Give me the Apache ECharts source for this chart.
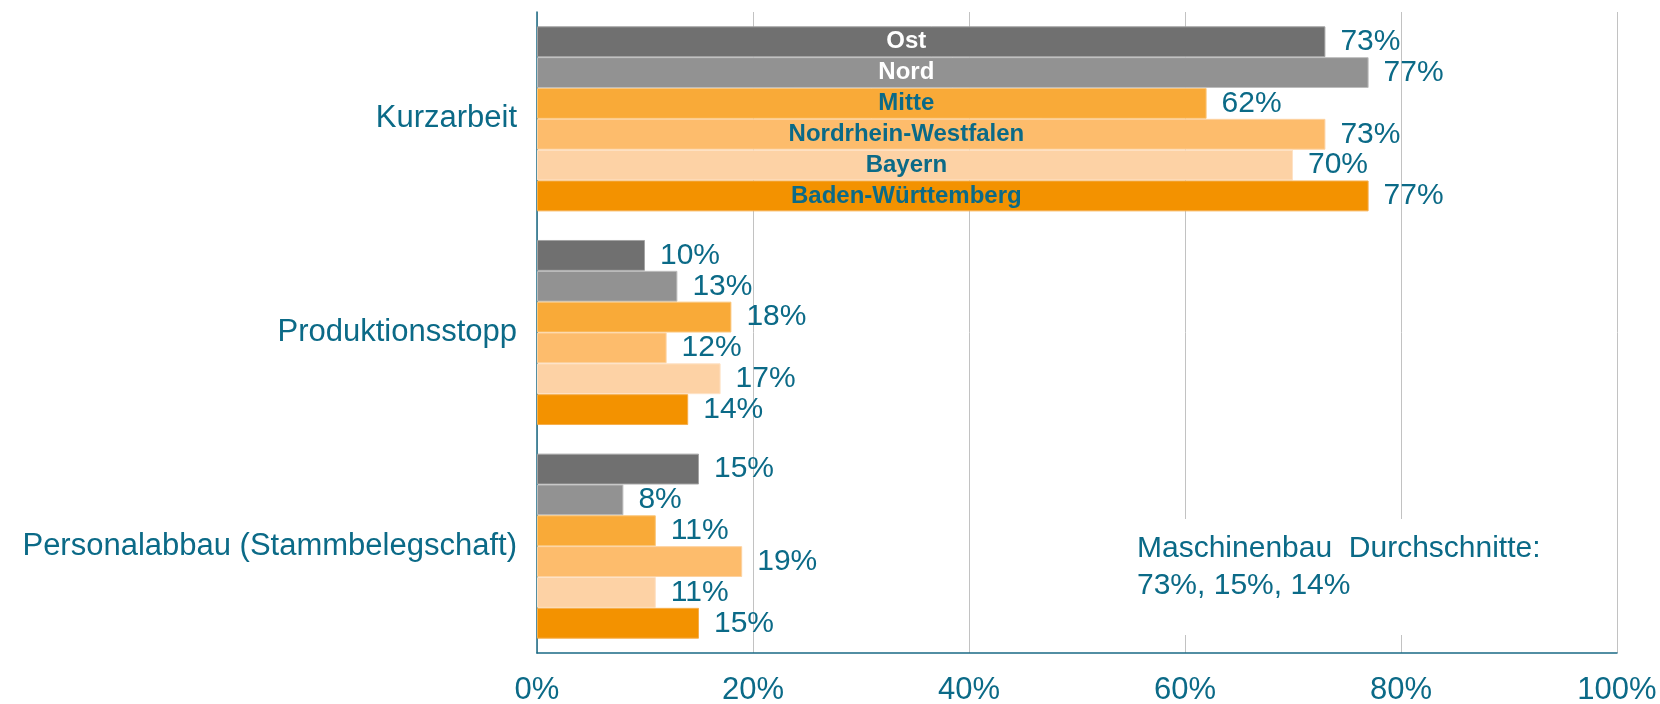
<!DOCTYPE html>
<html>
<head>
<meta charset="utf-8">
<script src="https://cdn.jsdelivr.net/npm/echarts@6/dist/echarts.min.js"></script>
<style>
html,body{margin:0;padding:0;background:#fff;}
#chart{width:1660px;height:704px;}
</style>
</head>
<body>
<div id="chart"></div>
<script>
var categories = ['Kurzarbeit', 'Produktionsstopp', 'Personalabbau (Stammbelegschaft)'];
var regions = ['Ost', 'Nord', 'Mitte', 'Nordrhein-Westfalen', 'Bayern', 'Baden-Württemberg'];
var ost = [73, 10, 15];
var nord = [77, 13, 8];
var mitte = [62, 18, 11];
var nrw = [73, 12, 19];
var bayern = [70, 17, 11];
var bw = [77, 14, 15];
var seriesValues = [ost, nord, mitte, nrw, bayern, bw];
var xTicks = [0, 20, 40, 60, 80, 100];
var noteLines = ['Maschinenbau  Durchschnitte:', '73%, 15%, 14%'];

var TEAL = '#0B6A87';
var FONT = '"Liberation Sans", Arial, sans-serif';
var colors = ['#707070', '#929292', '#F9AA38', '#FDBC6C', '#FDD2A5', '#F39200'];
var borders = ['#A4A4A4', '#BDBDBD', '#FBC67A', '#FDD2A0', '#FEE2C6', '#F6AE4C'];
var nameColors = ['#ffffff', '#ffffff', TEAL, TEAL, TEAL, TEAL];
var nameCenter = 34.2;

var chart = echarts.init(document.getElementById('chart'), null, {renderer: 'canvas'});

var series = regions.map(function (r, i) {
  return {
    name: r,
    type: 'bar',
    data: seriesValues[i],
    barGap: '0%',
    barCategoryGap: '13.4%',
    itemStyle: {color: colors[i], borderColor: borders[i], borderWidth: 1},
    label: {
      show: true,
      position: 'right',
      distance: 15,
      formatter: '{c}%',
      color: TEAL,
      fontSize: 30,
      fontFamily: FONT
    },
    markPoint: {
      symbol: 'rect',
      symbolSize: 1,
      itemStyle: {color: 'rgba(0,0,0,0)'},
      silent: true,
      animation: false,
      label: {
        show: true,
        position: 'inside',
        formatter: r,
        color: nameColors[i],
        fontSize: 24,
        fontWeight: 'bold',
        fontFamily: FONT
      },
      data: [{coord: [nameCenter, categories[0]]}]
    }
  };
});

chart.setOption({
  animation: false,
  grid: {left: 537, right: 43, top: 12, bottom: 51, containLabel: false, outerBoundsMode: 'none'},
  xAxis: {
    type: 'value',
    min: xTicks[0],
    max: xTicks[xTicks.length - 1],
    interval: xTicks[1] - xTicks[0],
    axisLine: {show: true, lineStyle: {color: '#1A6A85', width: 1.5}},
    axisTick: {show: false},
    splitLine: {show: true, lineStyle: {color: '#C2C2C2', width: 1}},
    axisLabel: {
      formatter: '{value}%',
      color: TEAL,
      fontSize: 31,
      fontFamily: FONT,
      margin: 22
    }
  },
  yAxis: {
    type: 'category',
    data: categories,
    inverse: true,
    axisLine: {show: true, lineStyle: {color: '#1A6A85', width: 1.5}},
    axisTick: {show: false},
    axisLabel: {
      color: TEAL,
      fontSize: 31,
      fontFamily: FONT,
      margin: 20
    }
  },
  graphic: [
    {
      type: 'rect',
      left: 1128,
      top: 519,
      shape: {width: 430, height: 116},
      style: {fill: '#ffffff'},
      z: 10
    },
    {
      type: 'text',
      left: 1137,
      top: 530,
      z: 11,
      style: {
        text: noteLines.join('\n'),
        fill: TEAL,
        font: '30px "Liberation Sans", Arial, sans-serif',
        lineHeight: 37
      }
    }
  ],
  series: series
});
</script>
</body>
</html>
